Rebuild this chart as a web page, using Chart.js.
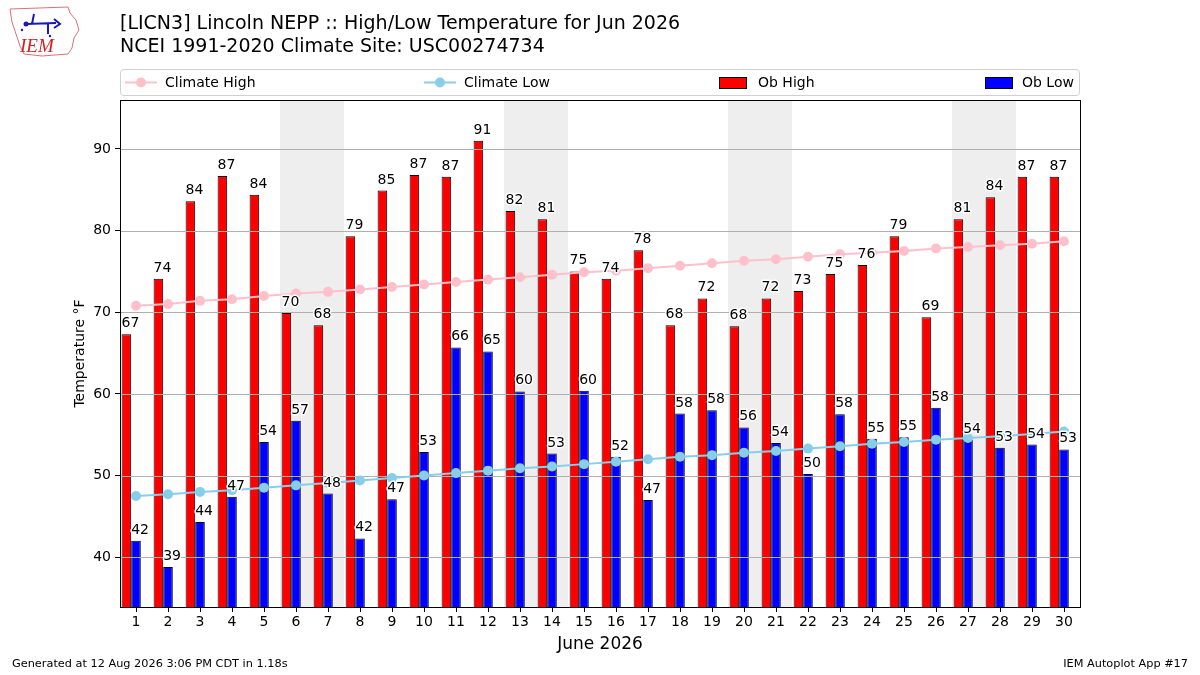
<!DOCTYPE html>
<html>
<head>
<meta charset="utf-8">
<script src="https://cdn.jsdelivr.net/npm/chart.js@4.4.1/dist/chart.umd.min.js"></script>
<style>
	body { margin: 0; background: #fff; font-family: "DejaVu Sans", sans-serif; color: #000; }
	#wrap { position: relative; width: 1200px; height: 675px; overflow: hidden; }
	#wrap canvas { position: absolute; left: 0; top: 0; }
	.title { position: absolute; left: 120px; top: 11px; font-size: 19px; line-height: 23px; white-space: nowrap; }
	.legend { position: absolute; left: 120px; top: 69px; width: 958px; height: 25px; border: 1px solid #d0d0d0; border-radius: 4px; }
	.legend .item { position: absolute; top: 0; height: 25px; line-height: 25px; font-size: 14px; white-space: nowrap; }
	.legend .box { position: absolute; top: 7px; width: 26px; height: 10px; border: 1px solid #000; }
	.foot { position: absolute; top: 657px; font-size: 11.3px; white-space: nowrap; }
	.logo { position: absolute; left: 6px; top: 4px; }
</style>
</head>
<body>
<div id="wrap">
	<canvas id="high-low-chart" width="1200" height="675"></canvas>

	<svg class="logo" width="76" height="56" viewBox="0 0 76 56">
		<path d="M4 5 L62 3 L64 9 L70 16 L73 26 L68 34 L66 44 L62 50 L36 52 L18 50 L14 42 L10 30 L6 18 Z" fill="none" stroke="#e07070" stroke-width="1"/>
		<path d="M20 20 L50 19 M48 15 L54 20 L48 24 M28 10 L26 20 M42 19 L42 30" stroke="#1a1ab0" stroke-width="2" fill="none"/>
		<circle cx="20" cy="20" r="2.5" fill="#1a1ab0"/>
		<circle cx="16" cy="26" r="1.2" fill="#1a1ab0"/>
		<circle cx="44" cy="32" r="1.2" fill="#1a1ab0"/>
		<text x="14" y="48" font-family="Liberation Serif, serif" font-style="italic" font-size="19" fill="#d42020">IEM</text>
	</svg>

	<div class="title">[LICN3] Lincoln NEPP :: High/Low Temperature for Jun 2026<br>NCEI 1991-2020 Climate Site: USC00274734</div>

	<div class="legend">
		<svg style="position:absolute;left:3px;top:6px" width="34" height="13"><line x1="1" y1="6.5" x2="33" y2="6.5" stroke="#ffc0cb" stroke-width="2"/><circle cx="17" cy="6.5" r="5" fill="#ffc0cb"/></svg>
		<div class="item" style="left:44px">Climate High</div>
		<svg style="position:absolute;left:302px;top:6px" width="34" height="13"><line x1="1" y1="6.5" x2="33" y2="6.5" stroke="#87ceeb" stroke-width="2"/><circle cx="17" cy="6.5" r="5" fill="#87ceeb"/></svg>
		<div class="item" style="left:343px">Climate Low</div>
		<div class="box" style="left:598px;background:#ff0000"></div>
		<div class="item" style="left:637px">Ob High</div>
		<div class="box" style="left:864px;background:#0000ff"></div>
		<div class="item" style="left:901px">Ob Low</div>
	</div>

	<div class="foot" style="left:12px">Generated at 12 Aug 2026 3:06 PM CDT in 1.18s</div>
	<div class="foot" style="right:12px">IEM Autoplot App #17</div>
</div>

<script>
// days of June 2026
const dayLabels = ["1","2","3","4","5","6","7","8","9","10","11","12","13","14","15",
	"16","17","18","19","20","21","22","23","24","25","26","27","28","29","30"];

const obHigh = [67.3, 74.1, 83.6, 86.7, 84.4, 69.9, 68.4, 79.3, 84.9, 86.8,
	86.6, 91.0, 82.4, 81.4, 75.0, 74.1, 77.6, 68.4, 71.7, 68.3,
	71.7, 72.6, 74.7, 75.8, 79.3, 69.4, 81.4, 84.1, 86.6, 86.6];
const obLow = [42.0, 38.8, 44.3, 47.4, 54.1, 56.7, 47.8, 42.3, 47.1, 52.9,
	65.7, 65.2, 60.3, 52.7, 60.4, 52.3, 47.0, 57.6, 58.0, 55.9,
	54.0, 50.2, 57.5, 54.5, 54.7, 58.3, 54.4, 53.4, 53.8, 53.2];

// NCEI 1991-2020 climatology
const climateHigh = [70.8, 71.0, 71.4, 71.6, 72.0, 72.3, 72.5, 72.8, 73.1, 73.4,
	73.7, 74.0, 74.3, 74.6, 74.9, 75.1, 75.4, 75.7, 76.0, 76.3,
	76.5, 76.8, 77.1, 77.3, 77.5, 77.8, 78.0, 78.2, 78.4, 78.7];
const climateLow = [47.5, 47.7, 48.0, 48.2, 48.5, 48.8, 49.1, 49.4, 49.7, 50.0,
	50.3, 50.6, 50.9, 51.1, 51.4, 51.7, 52.0, 52.3, 52.5, 52.8,
	53.0, 53.3, 53.6, 53.9, 54.1, 54.4, 54.6, 54.8, 55.1, 55.4];

// saturdays, shaded together with the sunday after
const weekendStart = ["6", "13", "20", "27"];
const yTicks = [40, 50, 60, 70, 80, 90];

const FONT = "DejaVu Sans";
Chart.defaults.font.family = FONT;
Chart.defaults.color = "#000";

// empty third slot so red/blue sit left of the day tick like the original
const spacer = dayLabels.map(() => null);

var gridDone = false;

const weekendShade = {
	id: "weekendShade",
	beforeDatasetsDraw: function (chart) {
		const x = chart.scales.x;
		const a = chart.chartArea;
		const ctx = chart.ctx;
		const half = (x.getPixelForValue(1) - x.getPixelForValue(0)) / 2;
		ctx.save();
		ctx.fillStyle = "#eeeeee";
		weekendStart.forEach(function (d) {
			const i = dayLabels.indexOf(d);
			const x0 = x.getPixelForValue(i) - half;
			const x1 = x.getPixelForValue(i + 1) + half;
			ctx.fillRect(x0, a.top, x1 - x0, a.bottom - a.top);
		});
		ctx.restore();
		gridDone = false;
	},
	// horizontal grid goes over the bars but under the climate lines
	beforeDatasetDraw: function (chart, args) {
		if (gridDone || args.meta.type !== "line") return;
		gridDone = true;
		const y = chart.scales.y;
		const a = chart.chartArea;
		const ctx = chart.ctx;
		ctx.save();
		ctx.strokeStyle = "#b0b0b0";
		ctx.lineWidth = 1;
		yTicks.forEach(function (t) {
			const py = Math.round(y.getPixelForValue(t)) + 0.5;
			ctx.beginPath();
			ctx.moveTo(a.left, py);
			ctx.lineTo(a.right, py);
			ctx.stroke();
		});
		ctx.restore();
	},
	afterDatasetsDraw: function (chart) {
		const ctx = chart.ctx;
		const a = chart.chartArea;
		ctx.save();
		ctx.strokeStyle = "#000";
		ctx.lineWidth = 1;
		ctx.strokeRect(Math.round(a.left) + 0.5, Math.round(a.top) + 0.5,
			Math.round(a.right - a.left), Math.round(a.bottom - a.top));

		// value labels, left edge of the bar, white halo
		ctx.font = "14px '" + FONT + "'";
		ctx.textAlign = "left";
		ctx.textBaseline = "alphabetic";
		ctx.lineJoin = "round";
		[2, 3].forEach(function (di) {
			const meta = chart.getDatasetMeta(di);
			const vals = chart.data.datasets[di].data;
			meta.data.forEach(function (bar, i) {
				const txt = String(Math.round(vals[i]));
				const tx = bar.x - bar.width / 2;
				const ty = bar.y - 7;
				ctx.strokeStyle = "#fff";
				ctx.lineWidth = 3;
				ctx.strokeText(txt, tx, ty);
				ctx.fillStyle = "#000";
				ctx.fillText(txt, tx, ty);
			});
		});
		ctx.restore();
	},
};

var handleHighLowChart = function () {
	const ctx = document.getElementById("high-low-chart").getContext("2d");

	const barBase = {
		borderColor: "#000",
		borderWidth: 1,
		categoryPercentage: 0.9,
		barPercentage: 1.0,
		order: 2,
	};
	const lineBase = {
		type: "line",
		borderWidth: 2,
		pointRadius: 5,
		pointHoverRadius: 5,
		pointBorderWidth: 0,
		tension: 0,
		order: 1,
	};

	const myChart = new Chart(ctx, {
		type: "bar",
		data: {
			labels: dayLabels,
			datasets: [
				Object.assign({}, lineBase, {
					label: "Climate High",
					data: climateHigh,
					borderColor: "#ffc0cb",
					backgroundColor: "#ffc0cb",
				}),
				Object.assign({}, lineBase, {
					label: "Climate Low",
					data: climateLow,
					borderColor: "#87ceeb",
					backgroundColor: "#87ceeb",
				}),
				Object.assign({}, barBase, {
					label: "Ob High",
					data: obHigh,
					backgroundColor: "#ff0000",
				}),
				Object.assign({}, barBase, {
					label: "Ob Low",
					data: obLow,
					backgroundColor: "#0000ff",
				}),
				Object.assign({}, barBase, {
					label: "",
					data: spacer,
					backgroundColor: "rgba(0,0,0,0)",
					borderWidth: 0,
				}),
			],
		},
		options: {
			responsive: false,
			animation: false,
			events: [],
			layout: {
				padding: { left: 72, top: 100, right: 120, bottom: 20 },
			},
			plugins: {
				legend: { display: false },
				title: { display: false },
				tooltip: { enabled: false },
			},
			scales: {
				x: {
					grid: {
						offset: false,
						drawOnChartArea: false,
						tickLength: 5,
						tickColor: "#000",
					},
					border: { color: "#000" },
					ticks: {
						color: "#000",
						font: { size: 14 },
						maxRotation: 0,
						autoSkip: false,
						padding: 2,
					},
					title: {
						display: true,
						text: "June 2026",
						color: "#000",
						font: { size: 17 },
						padding: { top: 0, bottom: 0 },
					},
					afterFit: function (scale) {
						scale.height = 48;
					},
				},
				y: {
					min: 33.9,
					max: 96,
					grid: {
						drawOnChartArea: false,
						tickLength: 5,
						tickColor: "#000",
					},
					border: { color: "#000" },
					ticks: {
						stepSize: 10,
						includeBounds: false,
						color: "#000",
						font: { size: 14 },
						padding: 4,
					},
					title: {
						display: true,
						text: "Temperature °F",
						color: "#000",
						font: { size: 14 },
						padding: { top: 0, bottom: 4 },
					},
					afterFit: function (scale) {
						scale.width = 48;
					},
				},
			},
		},
		plugins: [weekendShade],
	});

	return myChart;
};

handleHighLowChart();
</script>
</body>
</html>
